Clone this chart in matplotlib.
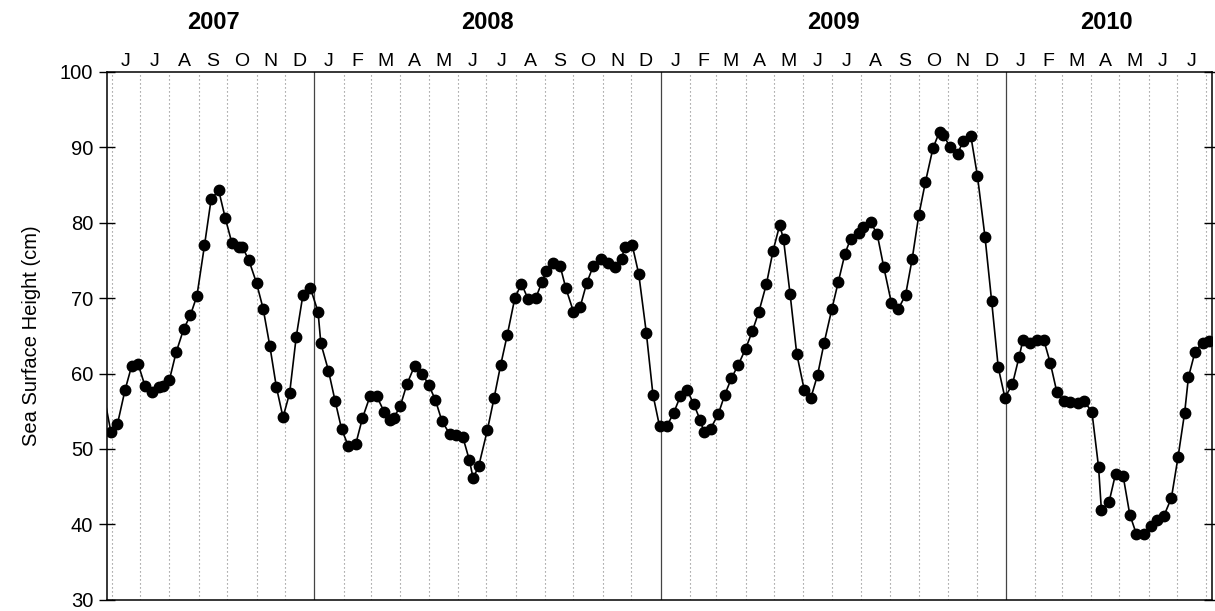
import numpy as np
import pandas as pd
import matplotlib
matplotlib.use("Agg")
import matplotlib.pyplot as plt
import matplotlib.dates as mdates

plt.rcParams["font.family"] = ["Liberation Sans", "DejaVu Sans"]

# weekly-ish sea surface height readings (cm)
dates_2007 = ["2007-05-24", "2007-05-31", "2007-06-07", "2007-06-15", "2007-06-22", "2007-06-29",
              "2007-07-06", "2007-07-14", "2007-07-21", "2007-07-25", "2007-08-01", "2007-08-08",
              "2007-08-16", "2007-08-23", "2007-08-30", "2007-09-07", "2007-09-14", "2007-09-22",
              "2007-09-29", "2007-10-06", "2007-10-13", "2007-10-17", "2007-10-24", "2007-11-01",
              "2007-11-08", "2007-11-15", "2007-11-22", "2007-11-29", "2007-12-06", "2007-12-13",
              "2007-12-20", "2007-12-28"]
ssh_2007 = [56.9, 52.3, 53.3, 57.8, 61.0, 61.2,
            58.4, 57.5, 58.2, 58.3, 59.2, 62.8,
            65.9, 67.7, 70.3, 77.0, 83.1, 84.3,
            80.6, 77.3, 76.8, 76.8, 75.0, 72.0,
            68.6, 63.7, 58.2, 54.2, 57.4, 64.9,
            70.4, 71.3]

dates_2008 = ["2008-01-05", "2008-01-08", "2008-01-16", "2008-01-23", "2008-01-30", "2008-02-06",
              "2008-02-14", "2008-02-21", "2008-02-29", "2008-03-07", "2008-03-15", "2008-03-21",
              "2008-03-25", "2008-04-01", "2008-04-08", "2008-04-16", "2008-04-24", "2008-05-01",
              "2008-05-08", "2008-05-15", "2008-05-23", "2008-05-30", "2008-06-06", "2008-06-13",
              "2008-06-17", "2008-06-23", "2008-07-02", "2008-07-09", "2008-07-16", "2008-07-23",
              "2008-07-31", "2008-08-07", "2008-08-14", "2008-08-22", "2008-08-29", "2008-09-02",
              "2008-09-09", "2008-09-17", "2008-09-23", "2008-10-01", "2008-10-08", "2008-10-15",
              "2008-10-22", "2008-10-30", "2008-11-06", "2008-11-14", "2008-11-21", "2008-11-24",
              "2008-12-02", "2008-12-09", "2008-12-17", "2008-12-24", "2008-12-31"]
ssh_2008 = [68.2, 64.0, 60.4, 56.4, 52.6, 50.4,
            50.7, 54.1, 57.0, 57.0, 54.9, 53.8,
            54.1, 55.7, 58.6, 61.0, 60.0, 58.5,
            56.5, 53.7, 52.0, 51.9, 51.6, 48.5,
            46.1, 47.8, 52.5, 56.7, 61.1, 65.1,
            70.0, 71.9, 69.9, 70.0, 72.2, 73.6,
            74.6, 74.2, 71.3, 68.2, 68.8, 72.0,
            74.3, 75.2, 74.6, 74.1, 75.2, 76.8,
            77.1, 73.2, 65.4, 57.2, 53.0]

dates_2009 = ["2009-01-08", "2009-01-15", "2009-01-22", "2009-01-29", "2009-02-05", "2009-02-12",
              "2009-02-16", "2009-02-23", "2009-03-03", "2009-03-10", "2009-03-17", "2009-03-24",
              "2009-04-01", "2009-04-08", "2009-04-15", "2009-04-23", "2009-04-30", "2009-05-07",
              "2009-05-11", "2009-05-18", "2009-05-25", "2009-06-02", "2009-06-09", "2009-06-16",
              "2009-06-23", "2009-07-01", "2009-07-08", "2009-07-15", "2009-07-21", "2009-07-30",
              "2009-08-03", "2009-08-11", "2009-08-18", "2009-08-25", "2009-09-02", "2009-09-09",
              "2009-09-17", "2009-09-24", "2009-10-01", "2009-10-08", "2009-10-16", "2009-10-23",
              "2009-10-27", "2009-11-03", "2009-11-11", "2009-11-17", "2009-11-25", "2009-12-02",
              "2009-12-10", "2009-12-17", "2009-12-24", "2009-12-31"]
ssh_2009 = [53.1, 54.8, 57.0, 57.8, 56.0, 53.8,
            52.2, 52.7, 54.6, 57.2, 59.4, 61.1,
            63.3, 65.6, 68.2, 71.9, 76.3, 79.7,
            77.8, 70.5, 62.6, 57.8, 56.8, 59.8,
            64.1, 68.5, 72.2, 75.9, 77.9, 78.7,
            79.5, 80.1, 78.5, 74.1, 69.4, 68.5,
            70.4, 75.2, 81.0, 85.4, 89.9, 92.1,
            91.7, 90.0, 89.1, 90.9, 91.5, 86.2,
            78.1, 69.6, 60.8, 56.8]

dates_2010 = ["2010-01-08", "2010-01-15", "2010-01-19", "2010-01-27", "2010-02-03", "2010-02-10",
              "2010-02-17", "2010-02-24", "2010-03-03", "2010-03-10", "2010-03-18", "2010-03-25",
              "2010-04-02", "2010-04-09", "2010-04-12", "2010-04-20", "2010-04-27", "2010-05-05",
              "2010-05-12", "2010-05-19", "2010-05-27", "2010-06-03", "2010-06-10", "2010-06-17",
              "2010-06-25", "2010-07-02", "2010-07-09", "2010-07-13", "2010-07-20", "2010-07-28",
              "2010-08-04"]
ssh_2010 = [58.6, 62.2, 64.4, 64.0, 64.4, 64.5,
            61.4, 57.5, 56.3, 56.2, 56.1, 56.3,
            54.9, 47.6, 41.9, 42.9, 46.7, 46.4,
            41.3, 38.7, 38.7, 39.8, 40.6, 41.1,
            43.5, 48.9, 54.8, 59.5, 62.9, 64.1,
            64.3]

years = [2007, 2008, 2009, 2010]
x_start, x_end = "2007-05-27", "2010-08-07"
first_month, last_month = "2007-06-01", "2010-07-01"

dates = pd.to_datetime(dates_2007 + dates_2008 + dates_2009 + dates_2010)
ssh = np.array(ssh_2007 + ssh_2008 + ssh_2009 + ssh_2010)

fig = plt.figure(figsize=(12.15, 6.11), dpi=100)
ax = fig.add_axes([0.0881, 0.0185, 0.9095, 0.8637])

x0, x1 = pd.Timestamp(x_start), pd.Timestamp(x_end)

# month boundaries dotted, year boundaries solid
month_starts = pd.date_range(first_month, x1, freq="MS")
for m in month_starts:
    if m.month == 1:
        ax.axvline(m, color="#444444", lw=0.9, zorder=1)
    else:
        ax.axvline(m, color="#808080", lw=0.8, ls=(0, (1, 2.6)), zorder=1)

# line runs off the left edge, markers only inside the window
ax.plot(dates, ssh, color="black", lw=1.2, zorder=3)
inside = (dates >= x0) & (dates <= x1)
ax.plot(dates[inside], ssh[inside], ls="none", marker="o", ms=7.5,
        mfc="black", mec="black", zorder=4)

ax.set_xlim(x0, x1)
ax.set_ylim(30, 100)
ax.set_yticks(np.arange(30, 101, 10))

# month initials on top, centred in each month
months = pd.date_range(first_month, last_month, freq="MS")
centers = months + (months + pd.offsets.MonthBegin(1) - months) / 2
ax.set_xticks(centers)
ax.set_xticklabels([m.strftime("%b")[0] for m in months])
ax.tick_params(axis="x", bottom=False, top=False, labelbottom=False,
               labeltop=True, length=0, pad=1.5, labelsize=14)
ax.tick_params(axis="y", direction="inout", length=12, width=1,
               right=True, labelsize=14.5, pad=4)

for y in years:
    lo = max(pd.Timestamp(f"{y}-01-01"), months[0])
    hi = min(pd.Timestamp(f"{y + 1}-01-01"), months[-1] + pd.offsets.MonthBegin(1))
    mid = lo + (hi - lo) / 2
    ax.text(mdates.date2num(mid), 1.093, str(y), transform=ax.get_xaxis_transform(),
            ha="center", va="center", fontsize=17, fontweight="bold")

ax.set_ylabel("Sea Surface Height (cm)", fontsize=14.5)
ax.yaxis.set_label_coords(-0.060, 0.5)

for s in ax.spines.values():
    s.set_linewidth(1.1)

fig.savefig("out.png", dpi=100)
